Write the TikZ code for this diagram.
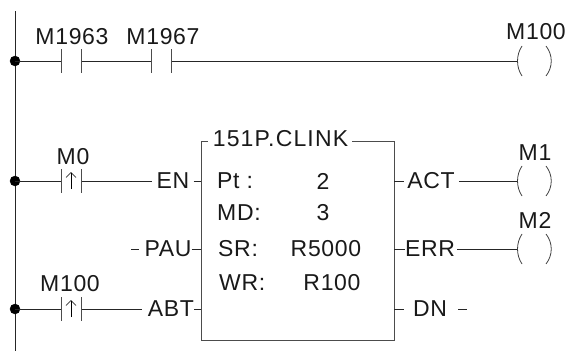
\documentclass[tikz,border=0pt]{standalone}
\usepackage{fontspec}
\setmainfont[LetterSpace=3]{Liberation Sans}
\usetikzlibrary{calc,arrows.meta}
\tikzset{
    wire/.style={line width=0.9pt, black!85},
    lbl/.style={font=\fontsize{23}{25}\selectfont, inner sep=0pt, text=black!90},
    coil/.style={line width=0.8pt, black!75},
    contact/.style={line width=1pt, black!70},
    edgemark/.style={line width=0.7pt, -{Straight Barb[length=5pt,width=10pt]}}
}
\newcommand{\coilat}[1]{
    \draw[coil] (522,#1-15) .. controls (516,#1-6) and (516,#1+6) .. (522,#1+15);
    \draw[coil] (546,#1-15) .. controls (553,#1-6) and (553,#1+6) .. (546,#1+15);
}
\newcommand{\contactat}[2]{
    \draw[contact] (#1,#2-12) -- (#1,#2+12);
    \draw[contact] (#1+20,#2-12) -- (#1+20,#2+12);
}
\begin{document}
\begin{tikzpicture}[x=1pt, y=-1pt]
    \useasboundingbox (0,0) rectangle (569,351);

    % power rail
    \coordinate (railT) at (15,11);
    \coordinate (railB) at (15,351);
    \draw[wire] (railT) -- (railB);
    \foreach \y in {61,181,309} {
        \filldraw (15,\y) circle (5pt);
    }

    % rung one
    \coordinate (r1a) at (15,61);
    \coordinate (c1L) at (61,61);
    \coordinate (c1R) at (81,61);
    \coordinate (c2L) at (151,61);
    \coordinate (c2R) at (171,61);
    \coordinate (coil1) at (517,61);
    \draw[wire] (r1a) -- (c1L);
    \draw[wire] (c1R) -- (c2L);
    \draw[wire] (c2R) -- (coil1);
    \contactat{61}{61}
    \contactat{151}{61}
    \coilat{61}
    \node[lbl] (m1963) at (72,37) {M1963};
    \node[lbl] (m1967) at (163,37) {M1967};
    \node[lbl] (m100out) at (536,32) {M100};

    % function block
    \coordinate (boxTL) at (201,141);
    \coordinate (boxTR) at (394,141);
    \coordinate (boxBL) at (201,340);
    \coordinate (boxBR) at (394,340);
    \node[lbl] (title) at (280.5,139) {\addfontfeatures{LetterSpace=5}151P.CLINK};
    \draw[wire, black!70] ($(title.west)+(-5,2)$) -- (boxTL) -- (boxBL) -- (boxBR) -- (boxTR) -- ($(title.east)+(4,2)$);

    % left pins
    \node[lbl] (en) at (173,181) {EN};
    \node[lbl] (pau) at (168,249) {PAU};
    \node[lbl] (abt) at (171,309) {ABT};
    \coordinate (enR) at (201,181);
    \coordinate (pauR) at (201,249);
    \coordinate (abtR) at (201,309);
    \coordinate (pauL) at (131,249);
    \draw[wire] ([xshift=4pt]en.east) -- (enR);
    \draw[wire] (pau.east) -- (pauR);
    \draw[wire] (abt.east) -- (abtR);
    \draw[wire] (pauL) -- ([xshift=-5pt]pau.west);

    % rung two and three contacts
    \coordinate (r2a) at (15,181);
    \coordinate (c3L) at (61,181);
    \coordinate (c3R) at (81,181);
    \coordinate (r3a) at (15,309);
    \coordinate (c4L) at (61,309);
    \coordinate (c4R) at (81,309);
    \draw[wire] (r2a) -- (c3L);
    \draw[wire] (c3R) -- ([xshift=-4pt]en.west);
    \draw[wire] (r3a) -- (c4L);
    \draw[wire] (c4R) -- ([xshift=-6pt]abt.west);
    \contactat{61}{181}
    \contactat{61}{309}
    \draw[edgemark] (71,189) -- (71,172);
    \draw[edgemark] (71,317) -- (71,300);
    \node[lbl] (m0) at (73,157) {M0};
    \node[lbl] (m100in) at (70,284) {M100};

    % right pins
    \node[lbl] (act) at (431,181) {ACT};
    \node[lbl] (err) at (430,249) {ERR};
    \node[lbl] (dn) at (430,309) {DN};
    \coordinate (coil2) at (517,181);
    \coordinate (coil3) at (517,249);
    \coordinate (dnR) at (467,309);
    \draw[wire] (394,181) -- ([xshift=-3pt]act.west);
    \draw[wire] (394,249) -- (err.west);
    \draw[wire] (394,309) -- ([xshift=-9pt]dn.west);
    \draw[wire] ([xshift=4pt]act.east) -- (coil2);
    \draw[wire] ([xshift=2pt]err.east) -- (coil3);
    \draw[wire, line width=0.6pt] ([xshift=11pt]dn.east) -- (dnR);
    \coilat{181}
    \coilat{249}
    \node[lbl] (m1) at (535,153) {M1};
    \node[lbl] (m2) at (535,220) {M2};

    % block parameters
    \node[lbl, anchor=west] (pt) at (217,181) {Pt :};
    \node[lbl, anchor=west] (md) at (217,213) {MD:};
    \node[lbl, anchor=west] (sr) at (218,249) {SR:};
    \node[lbl, anchor=west] (wr) at (219,283) {WR:};
    \node[lbl] (ptv) at (323,181) {2};
    \node[lbl] (mdv) at (323,213) {3};
    \node[lbl] (srv) at (326,249) {R5000};
    \node[lbl] (wrv) at (332,283) {R100};
\end{tikzpicture}
\end{document}
